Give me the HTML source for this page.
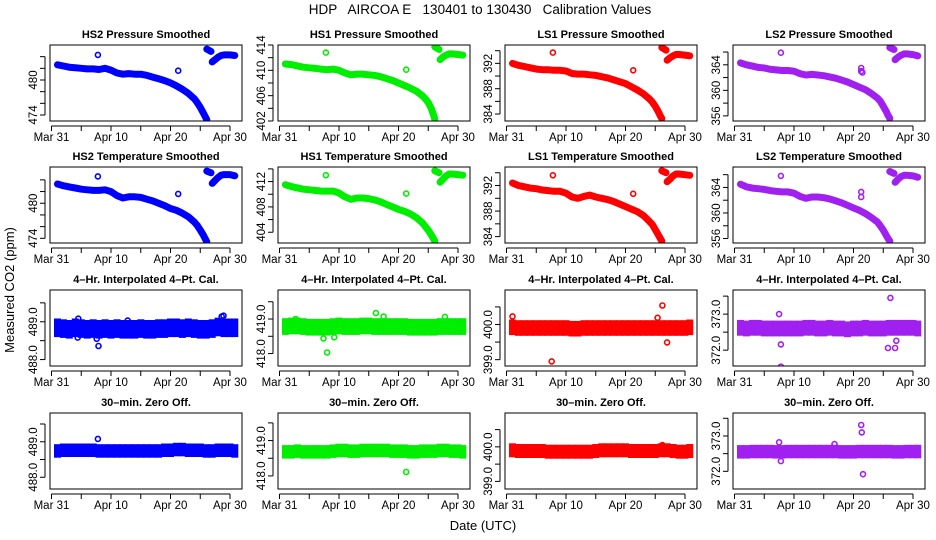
<!DOCTYPE html>
<html><head><meta charset="utf-8">
<style>
html,body{margin:0;padding:0;background:#fff;}
svg{display:block;font-family:"Liberation Sans",sans-serif;}
</style></head>
<body>
<svg id="chart" width="936" height="540" viewBox="0 0 936 540">
<text x="480" y="14" font-size="13.5" text-anchor="middle" xml:space="preserve">HDP   AIRCOA E   130401 to 130430   Calibration Values</text>
<text x="483" y="530" font-size="13" text-anchor="middle">Date (UTC)</text>
<text transform="translate(14,290) rotate(-90)" font-size="13" text-anchor="middle">Measured CO2 (ppm)</text>
</svg>
<script>
// ---- data ----
const xTickDays = [0,5,10,15,20,25,30];
const xTickLabels = ["Mar 31","","Apr 10","","Apr 20","","Apr 30"];
const trendDays = [1,2,3,4,5,6,7,8,9,10,11,12,13,14,15,16,17,18,19,20,21,22,23,24,24.5,25,25.5,25.8,26.1];
const jumpDays = [26.1,26.8];
const recoverDays = [27,27.5,28,28.5,29,30,30.8];
const bandDays = [1,2,3,4,5,6,7,8,9,10,11,12,13,14,15,16,17,18,19,20,21,22,23,24,25,26,27,28,29,30,30.8];

const hs2PTrend = [482.6,482.4,482.2,482.1,482.0,481.9,481.9,481.8,482.0,481.7,481.2,481.0,481.1,481.0,481.0,480.8,480.5,480.2,479.9,479.5,479.0,478.4,477.7,476.8,476.1,475.3,474.4,473.8,473.2];
const hs2PJump = [485.3,484.9];
const hs2PRecover = [483.1,483.5,483.9,484.2,484.3,484.3,484.2];
const hs2POutX = [7.8,21.3];
const hs2POutY = [484.3,481.6];

const hs2TTrend = [483.3,483.0,482.8,482.6,482.4,482.3,482.2,482.2,482.3,482.0,481.3,480.9,481.1,481.1,481.0,480.7,480.4,480.0,479.6,479.1,478.8,478.3,477.7,476.8,476.2,475.4,474.6,474.0,473.4];
const hs2TJump = [485.5,485.2];
const hs2TRecover = [483.4,483.9,484.4,484.8,484.9,484.9,484.7];
const hs2TOutX = [7.8,21.3];
const hs2TOutY = [484.6,481.6];

const hs1PTrend = [411.0,410.9,410.7,410.5,410.4,410.3,410.2,410.1,410.2,410.0,409.6,409.3,409.4,409.4,409.3,409.2,409.0,408.7,408.4,408.0,407.6,407.2,406.7,406.0,405.5,404.9,404.0,403.2,402.3];
const hs1PJump = [413.7,413.3];
const hs1PRecover = [411.7,412.1,412.4,412.6,412.6,412.5,412.4];
const hs1POutX = [7.8,21.3];
const hs1POutY = [412.8,410.1];

const hs1TTrend = [411.5,411.2,411.0,410.8,410.7,410.6,410.5,410.5,410.5,410.2,409.6,409.2,409.4,409.4,409.3,409.1,408.8,408.4,408.0,407.6,407.3,406.9,406.3,405.5,404.9,404.3,403.6,403.1,402.6];
const hs1TJump = [413.7,413.4];
const hs1TRecover = [411.9,412.4,412.9,413.2,413.2,413.1,413.0];
const hs1TOutX = [7.8,21.3];
const hs1TOutY = [413.0,410.1];

const ls1PTrend = [392.0,391.7,391.5,391.3,391.1,391.0,391.0,390.9,390.9,390.8,390.4,390.3,390.3,390.2,390.1,389.9,389.7,389.4,389.1,388.8,388.3,387.8,387.2,386.4,385.9,385.2,384.4,383.8,383.3];
const ls1PJump = [394.5,394.1];
const ls1PRecover = [392.5,392.9,393.2,393.4,393.4,393.3,393.2];
const ls1POutX = [7.8,21.3];
const ls1POutY = [393.7,390.9];

const ls1TTrend = [392.4,392.0,391.8,391.6,391.5,391.3,391.2,391.1,391.1,390.8,390.2,390.0,390.3,390.5,390.2,390.0,389.8,389.5,389.1,388.7,388.3,387.9,387.3,386.4,385.9,385.1,384.3,383.8,383.3];
const ls1TJump = [394.3,394.0];
const ls1TRecover = [392.6,393.0,393.5,393.8,393.8,393.7,393.6];
const ls1TOutX = [7.8,21.3];
const ls1TOutY = [393.6,390.7];

const ls2PTrend = [364.3,364.0,363.8,363.6,363.5,363.3,363.2,363.1,363.1,363.0,362.6,362.4,362.5,362.4,362.3,362.1,361.9,361.6,361.3,360.9,360.5,360.1,359.5,358.8,358.3,357.5,356.7,356.1,355.6];
const ls2PJump = [366.7,366.4];
const ls2PRecover = [364.8,365.2,365.5,365.7,365.7,365.6,365.4];
const ls2POutX = [7.8,21.3,21.3,21.5];
const ls2POutY = [365.9,363.5,363.0,362.8];

const ls2TTrend = [364.5,364.1,363.9,363.8,363.7,363.5,363.4,363.3,363.3,363.1,362.6,362.3,362.5,362.5,362.4,362.2,361.9,361.6,361.2,360.8,360.4,359.9,359.3,358.6,358.0,357.3,356.5,356.0,355.6];
const ls2TJump = [366.5,366.2];
const ls2TRecover = [364.8,365.3,365.7,365.9,365.9,365.8,365.6];
const ls2TOutX = [7.8,21.3,21.3];
const ls2TOutY = [365.8,363.3,362.5];

const hs2CalBand = [488.84,488.82,488.80,488.84,488.82,488.80,488.82,488.80,488.82,488.80,488.82,488.80,488.80,488.80,488.82,488.80,488.80,488.82,488.82,488.84,488.84,488.82,488.84,488.82,488.80,488.80,488.82,488.86,488.84,488.84,488.84];
const hs2CalOutX = [1,4.5,7.6,7.9,28.6,28.9,4.4,12.8];
const hs2CalOutY = [489.00,489.08,488.55,488.36,489.14,489.16,488.58,489.03];
const hs2ZeroBand = [488.74,488.76,488.76,488.76,488.76,488.76,488.76,488.74,488.74,488.74,488.74,488.74,488.74,488.74,488.74,488.74,488.74,488.74,488.76,488.76,488.78,488.78,488.76,488.76,488.76,488.74,488.74,488.76,488.76,488.76,488.74];
const hs2ZeroOutX = [7.8];
const hs2ZeroOutY = [489.08];

const hs1CalBand = [418.78,418.80,418.80,418.78,418.76,418.76,418.76,418.76,418.78,418.80,418.78,418.78,418.78,418.80,418.80,418.78,418.78,418.78,418.78,418.78,418.78,418.76,418.76,418.76,418.76,418.76,418.78,418.78,418.78,418.78,418.78];
const hs1CalOutX = [7.4,8.0,9.2,16.2,17.5,27.8,2.7];
const hs1CalOutY = [418.44,418.03,418.47,419.17,419.07,419.06,419.00];
const hs1ZeroBand = [418.68,418.68,418.70,418.68,418.68,418.68,418.68,418.68,418.70,418.72,418.72,418.70,418.70,418.72,418.72,418.72,418.72,418.72,418.70,418.70,418.70,418.68,418.68,418.70,418.70,418.70,418.72,418.72,418.70,418.70,418.68];
const hs1ZeroOutX = [21.3];
const hs1ZeroOutY = [418.11];

const ls1CalBand = [399.92,399.90,399.90,399.90,399.90,399.90,399.90,399.90,399.90,399.90,399.88,399.88,399.90,399.90,399.90,399.90,399.90,399.90,399.90,399.90,399.90,399.90,399.90,399.90,399.90,399.90,399.90,399.90,399.90,399.90,399.92];
const ls1CalOutX = [1,7.6,25.4,26.2,27.0];
const ls1CalOutY = [400.23,398.95,400.19,400.54,399.49];
const ls1ZeroBand = [399.90,399.88,399.88,399.88,399.88,399.88,399.86,399.86,399.86,399.86,399.86,399.86,399.86,399.86,399.88,399.90,399.90,399.90,399.90,399.90,399.88,399.88,399.88,399.88,399.88,399.90,399.90,399.88,399.86,399.86,399.88];
const ls1ZeroOutX = [26.2];
const ls1ZeroOutY = [400.05];

const ls2CalBand = [372.62,372.60,372.62,372.62,372.60,372.60,372.60,372.60,372.60,372.60,372.60,372.62,372.62,372.60,372.60,372.62,372.60,372.60,372.58,372.60,372.60,372.62,372.60,372.60,372.60,372.62,372.62,372.62,372.62,372.62,372.60];
const ls2CalOutX = [7.5,7.8,7.8,26.2,25.8,27.0,27.2];
const ls2CalOutY = [373.00,372.16,371.54,373.45,372.06,372.06,372.26];
const ls2ZeroBand = [372.55,372.55,372.56,372.56,372.56,372.56,372.55,372.55,372.56,372.56,372.56,372.56,372.56,372.56,372.56,372.56,372.56,372.55,372.55,372.55,372.56,372.56,372.56,372.56,372.56,372.56,372.55,372.55,372.56,372.56,372.56];
const ls2ZeroOutX = [7.5,7.8,21.3,21.4,21.6,16.8];
const ls2ZeroOutY = [372.82,372.29,373.31,373.10,371.92,372.77];

// ---- layout ----
const NS = "http://www.w3.org/2000/svg";
const svg = document.getElementById('chart');
const colLeft = [50,278,505,733], colW = 192;
const rowTop = [45,167,290,413], rowH = 76;
const colors = ["#0000ff","#00ee00","#ff0000","#a020f0"];

function mk(tag, attrs, parent){
  const e = document.createElementNS(NS, tag);
  for (const k in attrs) e.setAttribute(k, attrs[k]);
  (parent||svg).appendChild(e);
  return e;
}

const panels = [
 {r:0,c:0,title:"HS2 Pressure Smoothed",ymin:472.97,ymax:486.0,ticks:[474,476,478,480,482,484],labels:["474","","","480","",""],type:"trend",tr:hs2PTrend,jp:hs2PJump,rc:hs2PRecover,ox:hs2POutX,oy:hs2POutY},
 {r:0,c:1,title:"HS1 Pressure Smoothed",ymin:402,ymax:414,ticks:[402,404,406,408,410,412,414],labels:["402","","406","","410","","414"],type:"trend",tr:hs1PTrend,jp:hs1PJump,rc:hs1PRecover,ox:hs1POutX,oy:hs1POutY},
 {r:0,c:2,title:"LS1 Pressure Smoothed",ymin:382.9,ymax:394.9,ticks:[384,386,388,390,392,394],labels:["384","","388","","392",""],type:"trend",tr:ls1PTrend,jp:ls1PJump,rc:ls1PRecover,ox:ls1POutX,oy:ls1POutY},
 {r:0,c:3,title:"LS2 Pressure Smoothed",ymin:355.2,ymax:367.1,ticks:[356,358,360,362,364,366],labels:["356","","360","","364",""],type:"trend",tr:ls2PTrend,jp:ls2PJump,rc:ls2PRecover,ox:ls2POutX,oy:ls2POutY},
 {r:1,c:0,title:"HS2 Temperature Smoothed",ymin:473.2,ymax:486.2,ticks:[474,476,478,480,482,484],labels:["474","","","480","",""],type:"trend",tr:hs2TTrend,jp:hs2TJump,rc:hs2TRecover,ox:hs2TOutX,oy:hs2TOutY},
 {r:1,c:1,title:"HS1 Temperature Smoothed",ymin:402.3,ymax:414.3,ticks:[404,406,408,410,412,414],labels:["404","","408","","412",""],type:"trend",tr:hs1TTrend,jp:hs1TJump,rc:hs1TRecover,ox:hs1TOutX,oy:hs1TOutY},
 {r:1,c:2,title:"LS1 Temperature Smoothed",ymin:383.0,ymax:394.9,ticks:[384,386,388,390,392,394],labels:["384","","388","","392",""],type:"trend",tr:ls1TTrend,jp:ls1TJump,rc:ls1TRecover,ox:ls1TOutX,oy:ls1TOutY},
 {r:1,c:3,title:"LS2 Temperature Smoothed",ymin:355.3,ymax:367.2,ticks:[356,358,360,362,364,366],labels:["356","","360","","364",""],type:"trend",tr:ls2TTrend,jp:ls2TJump,rc:ls2TRecover,ox:ls2TOutX,oy:ls2TOutY},
 {r:2,c:0,title:"4\u2013Hr. Interpolated 4\u2013Pt. Cal.",ymin:487.83,ymax:489.84,ticks:[488,488.5,489,489.5],labels:["488.0","","489.0",""],type:"band",band:hs2CalBand,hw:0.18,ox:hs2CalOutX,oy:hs2CalOutY},
 {r:2,c:1,title:"4\u2013Hr. Interpolated 4\u2013Pt. Cal.",ymin:417.64,ymax:419.84,ticks:[418,418.5,419,419.5],labels:["418.0","","419.0",""],type:"band",band:hs1CalBand,hw:0.17,ox:hs1CalOutX,oy:hs1CalOutY},
 {r:2,c:2,title:"4\u2013Hr. Interpolated 4\u2013Pt. Cal.",ymin:398.82,ymax:400.98,ticks:[399,399.5,400,400.5],labels:["399.0","","400.0",""],type:"band",band:ls1CalBand,hw:0.15,ox:ls1CalOutX,oy:ls1CalOutY},
 {r:2,c:3,title:"4\u2013Hr. Interpolated 4\u2013Pt. Cal.",ymin:371.56,ymax:373.67,ticks:[372,372.5,373,373.5],labels:["372.0","","373.0",""],type:"band",band:ls2CalBand,hw:0.15,ox:ls2CalOutX,oy:ls2CalOutY},
 {r:3,c:0,title:"30\u2013min. Zero Off.",ymin:487.67,ymax:489.81,ticks:[488,488.5,489,489.5],labels:["488.0","","489.0",""],type:"band",band:hs2ZeroBand,hw:0.12,ox:hs2ZeroOutX,oy:hs2ZeroOutY},
 {r:3,c:1,title:"30\u2013min. Zero Off.",ymin:417.63,ymax:419.78,ticks:[418,418.5,419,419.5],labels:["418.0","","419.0",""],type:"band",band:hs1ZeroBand,hw:0.12,ox:hs1ZeroOutX,oy:hs1ZeroOutY},
 {r:3,c:2,title:"30\u2013min. Zero Off.",ymin:398.78,ymax:400.98,ticks:[399,399.5,400,400.5],labels:["399.0","","400.0",""],type:"band",band:ls1ZeroBand,hw:0.13,ox:ls1ZeroOutX,oy:ls1ZeroOutY},
 {r:3,c:3,title:"30\u2013min. Zero Off.",ymin:371.5,ymax:373.65,ticks:[372,372.5,373,373.5],labels:["372.0","","373.0",""],type:"band",band:ls2ZeroBand,hw:0.12,ox:ls2ZeroOutX,oy:ls2ZeroOutY}
];

panels.forEach(function(p, idx){
  const L = colLeft[p.c], T = rowTop[p.r], W = colW, H = rowH;
  const col = colors[p.c];
  const xs = d => L + 1.5 + d*5.95;
  const ys = v => T + (p.ymax - v)/(p.ymax - p.ymin)*H;
  const g = mk('g', {});
  
  
  const clipId = 'clip'+idx;
  const cp = mk('clipPath', {id:clipId}, g);
  mk('rect', {x:L, y:T, width:W, height:H}, cp);

  const t = mk('text', {x:L+W/2, y:T-7, 'font-size':11, 'font-weight':'bold', 'text-anchor':'middle'}, g);
  t.textContent = p.title;
  
  

  const data = mk('g', {'clip-path':'url(#'+clipId+')'}, g);
  
  

  if (p.type === 'trend') {
    [[trendDays,p.tr],[jumpDays,p.jp],[recoverDays,p.rc]].forEach(function(s){
      const pts = s[0].map((d,i)=> xs(d).toFixed(1)+','+ys(s[1][i]).toFixed(1)).join(' ');
      const pl = mk('polyline', {points:pts, fill:'none', stroke:col, 'stroke-width':7, 'stroke-linecap':'round', 'stroke-linejoin':'round'}, data);
      
      
    });
  } else {
    p.band.forEach(function(v,i){
      const d = bandDays[i];
      const y1 = ys(v + p.hw), y2 = ys(v - p.hw);
      const r = mk('rect', {x:(xs(d)-3.5).toFixed(1), y:(y1-2.5).toFixed(1), width:7, height:(y2-y1+5).toFixed(1), fill:col}, data);
      
      
    });
  }
  p.ox.forEach(function(d,i){
    const c = mk('circle', {cx:xs(d).toFixed(1), cy:ys(p.oy[i]).toFixed(1), r:2.5, fill:'none', stroke:col, 'stroke-width':1.6}, data);
    
    
  });

  const box = mk('rect', {x:L, y:T, width:W, height:H, fill:'none', stroke:'#000', 'stroke-width':1}, g);
  
  

  // x axis
  const xa = mk('g', {}, g);
  
  
  mk('line', {x1:xs(0), x2:xs(30), y1:T+H+5, y2:T+H+5, stroke:'#000'}, xa);
  xTickDays.forEach(function(d,i){
    mk('line', {x1:xs(d), x2:xs(d), y1:T+H+5, y2:T+H+10, stroke:'#000'}, xa);
    if (xTickLabels[i]) {
      const lt = mk('text', {x:xs(d), y:T+H+20, 'font-size':11.5, 'text-anchor':'middle'}, xa);
      lt.textContent = xTickLabels[i];
      
      
    }
  });
  // y axis
  const ya = mk('g', {}, g);
  
  
  mk('line', {x1:L-5, x2:L-5, y1:ys(p.ticks[0]), y2:ys(p.ticks[p.ticks.length-1]), stroke:'#000'}, ya);
  p.ticks.forEach(function(v,i){
    mk('line', {x1:L-10, x2:L-5, y1:ys(v), y2:ys(v), stroke:'#000'}, ya);
    if (p.labels[i]) {
      const lt = mk('text', {transform:'translate('+(L-13)+','+ys(v).toFixed(1)+') rotate(-90)', 'font-size':11.5, 'text-anchor':'middle'}, ya);
      lt.textContent = p.labels[i];
      
      
    }
  });
});
</script>
</body></html>
